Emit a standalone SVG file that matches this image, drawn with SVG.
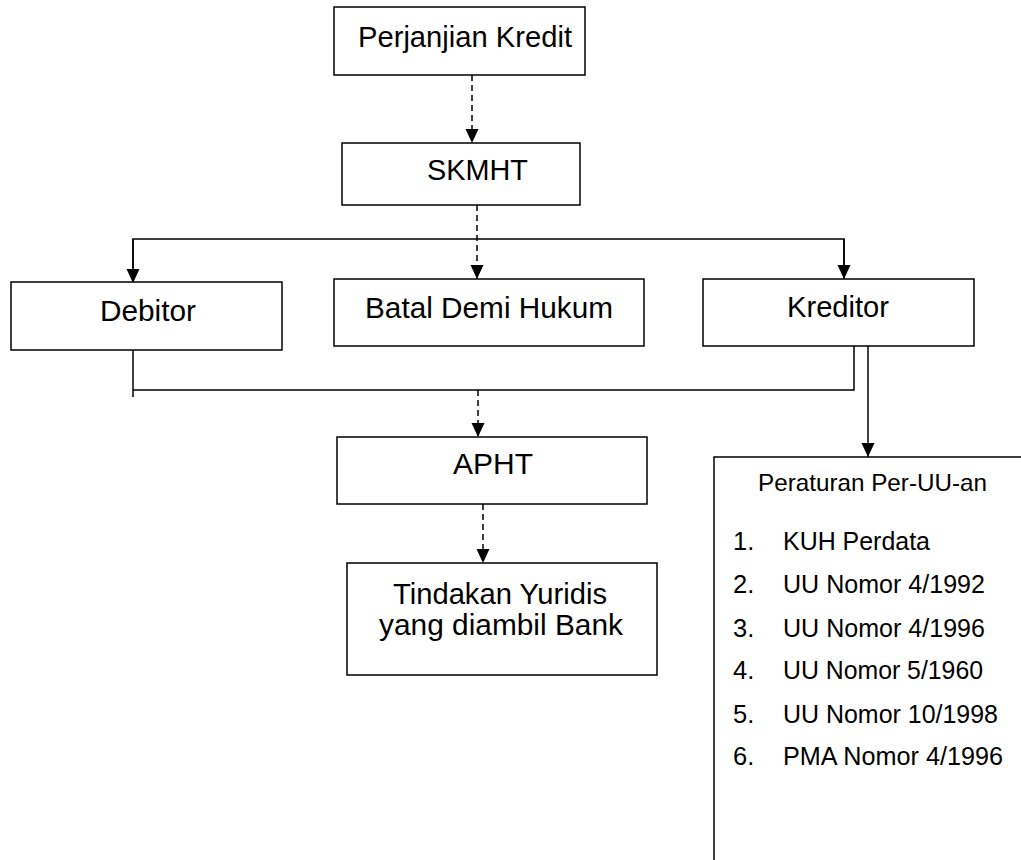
<svg xmlns="http://www.w3.org/2000/svg" width="1021" height="860" viewBox="0 0 1021 860">
<style>
.box{fill:#fff;stroke:#000;stroke-width:1.5}
.t{font-family:"Liberation Sans",Arial,sans-serif;font-size:29px;fill:#000}
.s{font-family:"Liberation Sans",Arial,sans-serif;font-size:25.5px;fill:#000}
.p{font-family:"Liberation Sans",Arial,sans-serif;font-size:24px;fill:#000}
.ln{fill:none;stroke:#000;stroke-width:1.5}
.dash{fill:none;stroke:#000;stroke-width:1.5;stroke-dasharray:6 4}
</style>
<defs>
<marker id="ah" markerUnits="userSpaceOnUse" markerWidth="14" markerHeight="14" viewBox="0 0 14 14" refX="14" refY="7" orient="auto">
<path d="M0,0.5 L14,7 L0,13.5 z" fill="#000"/>
</marker>
</defs>
<g id="connectors">
<line class="dash" x1="472" y1="75" x2="472" y2="143" marker-end="url(#ah)"/>
<line class="dash" x1="477" y1="205" x2="477" y2="279" marker-end="url(#ah)"/>
<polyline class="ln" points="133,270 133,239 844,239 844,266"/>
<line class="ln" x1="133" y1="239" x2="133" y2="283" marker-end="url(#ah)"/>
<line class="ln" x1="844" y1="239" x2="844" y2="279" marker-end="url(#ah)"/>
<line class="ln" x1="133" y1="350" x2="133" y2="397"/>
<polyline class="ln" points="133,390 854,390 854,346"/>
<line class="dash" x1="478" y1="390" x2="478" y2="437" marker-end="url(#ah)"/>
<line class="dash" x1="483" y1="504" x2="483" y2="563" marker-end="url(#ah)"/>
<line class="ln" x1="868" y1="346" x2="868" y2="457" marker-end="url(#ah)"/>
</g>
<g id="perjanjian">
<rect class="box" x="334" y="7" width="251" height="68"/>
<text class="t" x="358" y="47" textLength="214" lengthAdjust="spacingAndGlyphs">Perjanjian Kredit</text>
</g>
<g id="skmht">
<rect class="box" x="342" y="143" width="238" height="62"/>
<text class="t" x="427" y="180" textLength="101" lengthAdjust="spacingAndGlyphs">SKMHT</text>
</g>
<g id="debitor">
<rect class="box" x="11" y="282" width="271" height="68"/>
<text class="t" x="100" y="321" textLength="96" lengthAdjust="spacingAndGlyphs">Debitor</text>
</g>
<g id="batal">
<rect class="box" x="334" y="279" width="310" height="67"/>
<text class="t" x="365" y="318" textLength="248" lengthAdjust="spacingAndGlyphs">Batal Demi Hukum</text>
</g>
<g id="kreditor">
<rect class="box" x="703" y="279" width="271" height="67"/>
<text class="t" x="787" y="317" textLength="102" lengthAdjust="spacingAndGlyphs">Kreditor</text>
</g>
<g id="apht">
<rect class="box" x="337" y="437" width="310" height="67"/>
<text class="t" x="453" y="474" textLength="80" lengthAdjust="spacingAndGlyphs">APHT</text>
</g>
<g id="tindakan">
<rect class="box" x="347" y="563" width="310" height="112"/>
<text class="t" x="393" y="604" textLength="214" lengthAdjust="spacingAndGlyphs">Tindakan Yuridis</text>
<text class="t" x="379" y="635" textLength="244" lengthAdjust="spacingAndGlyphs">yang diambil Bank</text>
</g>
<g id="peraturan">
<rect class="box" x="714" y="457" width="330" height="420"/>
<text class="p" x="758" y="491" textLength="229" lengthAdjust="spacingAndGlyphs">Peraturan Per-UU-an</text>
<text class="s" x="733" y="550">1.</text>
<text class="s" x="783" y="550" textLength="147" lengthAdjust="spacingAndGlyphs">KUH Perdata</text>
<text class="s" x="733" y="593">2.</text>
<text class="s" x="783" y="593" textLength="202" lengthAdjust="spacingAndGlyphs">UU Nomor 4/1992</text>
<text class="s" x="733" y="637">3.</text>
<text class="s" x="783" y="637" textLength="202" lengthAdjust="spacingAndGlyphs">UU Nomor 4/1996</text>
<text class="s" x="733" y="679">4.</text>
<text class="s" x="783" y="679" textLength="200" lengthAdjust="spacingAndGlyphs">UU Nomor 5/1960</text>
<text class="s" x="733" y="723">5.</text>
<text class="s" x="783" y="723" textLength="215" lengthAdjust="spacingAndGlyphs">UU Nomor 10/1998</text>
<text class="s" x="733" y="765">6.</text>
<text class="s" x="783" y="765" textLength="220" lengthAdjust="spacingAndGlyphs">PMA Nomor 4/1996</text>
</g>
</svg>
